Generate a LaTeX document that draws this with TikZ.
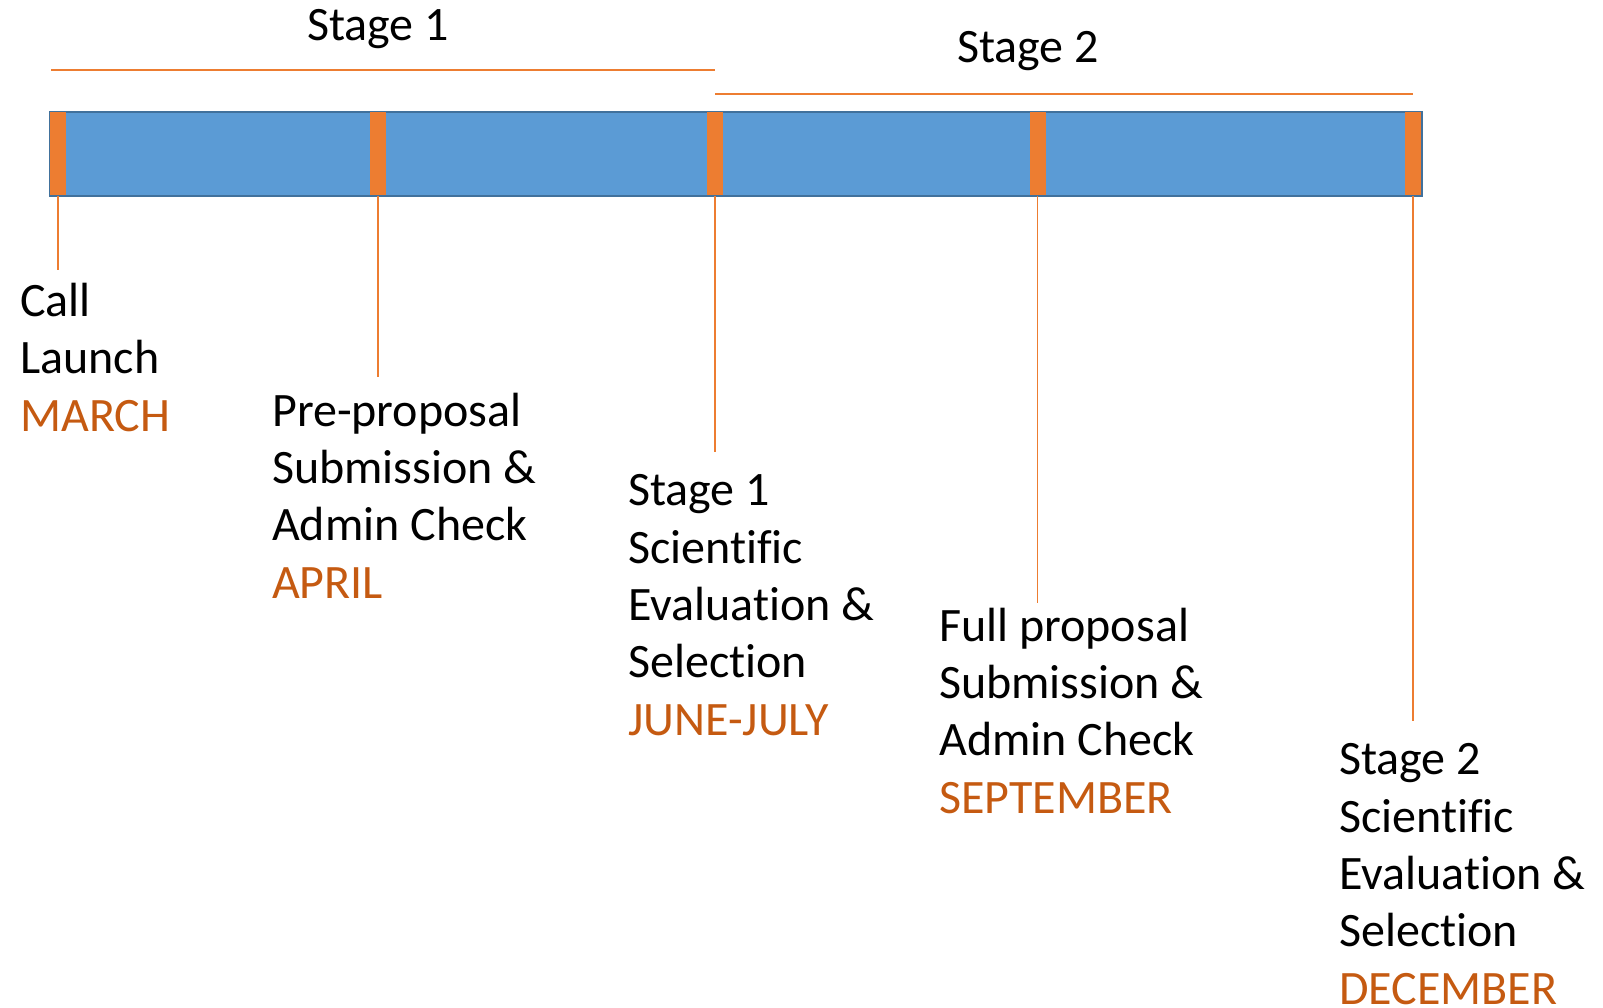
\documentclass[tikz,border=0pt]{standalone}
\usepackage{fontspec}
\setmainfont{Carlito}[Ligatures={NoCommon,NoContextual}]
\definecolor{barblue}{HTML}{5B9BD5}
\definecolor{barline}{HTML}{41719C}
\definecolor{markorange}{HTML}{ED7D31}
\definecolor{monthtxt}{HTML}{C55A11}
\newcommand{\duemonth}[1]{\textcolor{monthtxt}{#1}}
\tikzset{
  milestone/.style={fill=markorange, draw=none, minimum width=16pt, minimum height=83pt, inner sep=0pt},
  leader/.style={draw=markorange, line width=1.5pt},
  stagetext/.style={anchor=base west, inner sep=0pt, align=left, font=\fontsize{48}{57.3}\selectfont}
}

\begin{document}
\begin{tikzpicture}[x=1pt,y=-1pt]
	%%%%% START %%%%%
	\useasboundingbox (0,0) rectangle (1603,1008);
	
	% stage headings
	\node[stagetext] (st1) at (307,41) {Stage 1};
	\node[stagetext] (st2) at (957,63) {Stage 2};
	\coordinate (s1a) at (51,70);
	\coordinate (s1b) at (715,70);
	\coordinate (s2a) at (715,94);
	\coordinate (s2b) at (1413,94);
	\draw[leader] (s1a) -- (s1b);
	\draw[leader] (s2a) -- (s2b);
	
	% time bar
	\draw[fill=barblue, draw=barline, line width=2.5pt] (50,112) rectangle (1422,196);
	
	\node[milestone] (m1) at (58,154) {};
	\node[milestone] (m2) at (378,154) {};
	\node[milestone] (m3) at (715,154) {};
	\node[milestone] (m4) at (1037.5,154) {};
	\node[milestone] (m5) at (1413,154) {};
	
	% leader lines
	\coordinate (e1) at (58,270);
	\coordinate (e2) at (378,377);
	\coordinate (e3) at (715,452);
	\coordinate (e4) at (1037.5,603);
	\coordinate (e5) at (1413,721);
	\draw[leader] (m1.south) -- (e1);
	\draw[leader] (m2.south) -- (e2);
	\draw[leader] (m3.south) -- (e3);
	\draw[leader] (m4.south) -- (e4);
	\draw[leader] (m5.south) -- (e5);
	
	% milestone texts (anchored at the last line)
	\node[stagetext] (t1) at (20,431) {Call\\Launch\\\duemonth{MARCH}};
	\node[stagetext] (t2) at (272,598) {Pre-proposal\\Submission \&\\Admin Check\\\duemonth{APRIL}};
	\node[stagetext] (t3) at (628,735) {Stage 1\\Scientific\\Evaluation \&\\Selection\\\duemonth{JUNE-JULY}};
	\node[stagetext] (t4) at (939,813) {Full proposal\\Submission \&\\Admin Check\\\duemonth{SEPTEMBER}};
	\node[stagetext] (t5) at (1339,1004) {Stage 2\\Scientific\\Evaluation \&\\Selection\\\duemonth{DECEMBER}};
	
	%%%%% END %%%%%
\end{tikzpicture}
\end{document}
